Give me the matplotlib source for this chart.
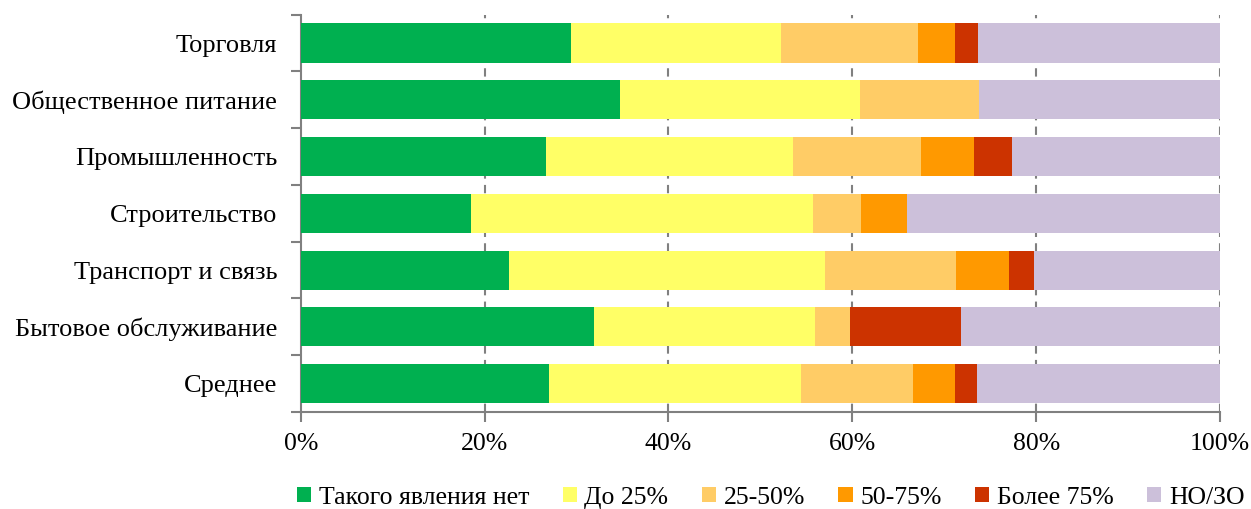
import matplotlib
matplotlib.use("Agg")
import matplotlib.pyplot as plt
import numpy as np

categories = ["Торговля", "Общественное питание", "Промышленность", "Строительство",
              "Транспорт и связь", "Бытовое обслуживание", "Среднее"]
series_names = ["Такого явления нет", "До 25%", "25-50%", "50-75%", "Более 75%", "НО/ЗО"]
none_ = [29.4, 34.7, 26.7, 18.5, 22.7, 31.9, 27.0]
upto25 = [22.9, 26.1, 26.8, 37.2, 34.3, 24.0, 27.4]
p25_50 = [14.8, 13.0, 14.0, 5.2, 14.3, 3.9, 12.2]
p50_75 = [4.1, 0.0, 5.7, 5.1, 5.7, 0.0, 4.6]
over75 = [2.5, 0.0, 4.2, 0.0, 2.8, 12.0, 2.4]
no_zo = [26.3, 26.2, 22.6, 34.0, 20.2, 28.2, 26.4]
xticks = [0, 20, 40, 60, 80, 100]
xticklabels = ["0%", "20%", "40%", "60%", "80%", "100%"]

colors = ["#00B050", "#FFFF66", "#FFCC66", "#FF9900", "#CC3300", "#CCC0DA"]

plt.rcParams['font.family'] = ['Liberation Serif', 'DejaVu Serif']

fig = plt.figure(figsize=(12.51, 5.09), dpi=100)
ax = fig.add_axes([300.7/1251, 1-412/509, (1220-300.7)/1251, (412-14.7)/509])

y = np.arange(len(categories))
left = np.zeros(len(categories))
for name, vals, c in zip(series_names, [none_, upto25, p25_50, p50_75, over75, no_zo], colors):
    vals = np.array(vals)
    ax.barh(y, vals, left=left, height=0.69, color=c, label=name, edgecolor='none', zorder=3)
    left += vals

ax.set_xlim(0, 100)
ax.set_ylim(len(categories) - 0.5, -0.5)
ax.set_yticks(y)
ax.set_yticklabels(categories, fontsize=19)
ax.set_yticks(np.arange(-0.5, len(categories)), minor=True)
ax.tick_params(axis='y', which='major', length=0, pad=17)
ax.tick_params(axis='y', which='minor', length=7, width=1.5, color='#808080', direction='out')
ax.set_xticks(xticks)
ax.set_xticklabels(xticklabels, fontsize=18.5)
ax.tick_params(axis='x', which='major', length=7, width=1.5, color='#808080', direction='out', pad=8)

for s in ['top', 'right']:
    ax.spines[s].set_visible(False)
for s in ['left', 'bottom']:
    ax.spines[s].set_color('#808080')
    ax.spines[s].set_linewidth(1.5)

for xv in xticks[1:]:
    ax.axvline(xv, color='#808080', linestyle=(0, (4, 3)), linewidth=1.5, zorder=1)

fig.legend(loc='lower center', bbox_to_anchor=(0.616, -0.045), ncol=6, frameon=False,
           fontsize=18.5, handlelength=0.55, handleheight=0.55, handletextpad=0.3,
           columnspacing=1.3)

fig.savefig("out.png", dpi=100)
